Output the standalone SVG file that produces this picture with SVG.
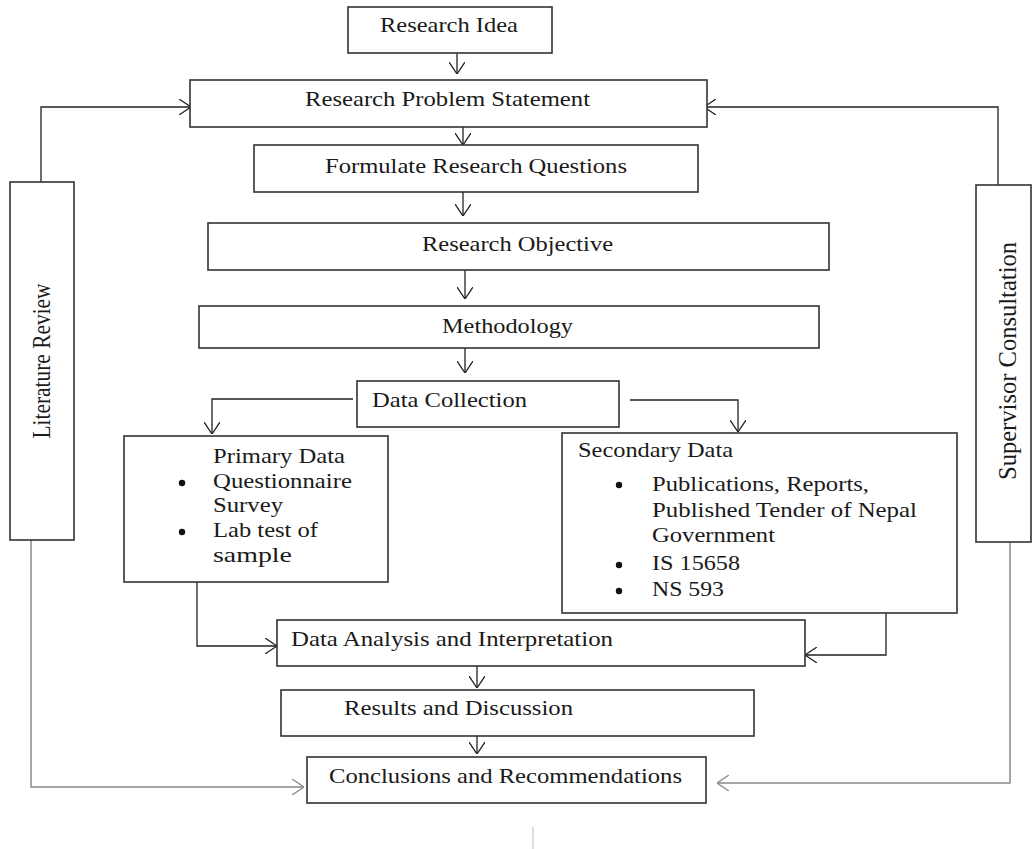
<svg xmlns="http://www.w3.org/2000/svg" width="1033" height="849" viewBox="0 0 1033 849">
<style>
.box{fill:#fff;stroke:#333;stroke-width:1.6}
.t{font-family:"Liberation Serif","Times New Roman",serif;font-size:22px;fill:#1a1a1a}
.c{fill:none;stroke:#222;stroke-width:1.3}
.g{fill:none;stroke:#8a8a8a;stroke-width:1.5}
.dot{fill:#111}
</style>
<defs>
<marker id="a" viewBox="0 0 12 16" refX="12" refY="8" markerWidth="12" markerHeight="16" markerUnits="userSpaceOnUse" orient="auto">
<path d="M0,0 L12,8 L0,16" fill="none" stroke="#222" stroke-width="1.3"/>
</marker>
<marker id="ag" viewBox="0 0 12 16" refX="12" refY="8" markerWidth="12" markerHeight="16" markerUnits="userSpaceOnUse" orient="auto">
<path d="M0,0 L12,8 L0,16" fill="none" stroke="#8a8a8a" stroke-width="1.4"/>
</marker>
</defs>
<rect width="1033" height="849" fill="#fff"/>

<g id="connectors">
<path class="c" d="M457,53 V74" marker-end="url(#a)"/>
<path class="c" d="M463,127 V145" marker-end="url(#a)"/>
<path class="c" d="M463,192 V216" marker-end="url(#a)"/>
<path class="c" d="M465,270 V299" marker-end="url(#a)"/>
<path class="c" d="M465,348 V373" marker-end="url(#a)"/>
<path class="c" d="M353,399 H212 V434" marker-end="url(#a)"/>
<path class="c" d="M630,400 H738 V432" marker-end="url(#a)"/>
<path class="c" d="M197,582 V646 H277" marker-end="url(#a)"/>
<path class="c" d="M886,613 V655 H805" marker-end="url(#a)"/>
<path class="c" d="M477,666 V688" marker-end="url(#a)"/>
<path class="c" d="M477,736 V754" marker-end="url(#a)"/>
<path class="c" d="M41,182 V107 H191" marker-end="url(#a)"/>
<path class="c" d="M998,185 V107 H704" marker-end="url(#a)"/>
<path class="g" d="M31,540 V787 H304" marker-end="url(#ag)"/>
<path class="g" d="M1010,542 V783 H717" marker-end="url(#ag)"/>
<path d="M533,827 V849" stroke="#c8c8c8" stroke-width="1.2" fill="none"/>
</g>

<g id="research-idea">
<rect class="box" x="348" y="7" width="204" height="46"/>
<text class="t" x="380" y="32" textLength="138" lengthAdjust="spacingAndGlyphs">Research Idea</text>
</g>
<g id="problem-statement">
<rect class="box" x="190" y="80" width="517" height="47"/>
<text class="t" x="305" y="106" textLength="285" lengthAdjust="spacingAndGlyphs">Research Problem Statement</text>
</g>
<g id="research-questions">
<rect class="box" x="254" y="145" width="444" height="47"/>
<text class="t" x="325" y="173" textLength="302" lengthAdjust="spacingAndGlyphs">Formulate Research Questions</text>
</g>
<g id="research-objective">
<rect class="box" x="208" y="223" width="621" height="47"/>
<text class="t" x="422" y="251" textLength="191" lengthAdjust="spacingAndGlyphs">Research Objective</text>
</g>
<g id="methodology">
<rect class="box" x="199" y="306" width="620" height="42"/>
<text class="t" x="442" y="333" textLength="131" lengthAdjust="spacingAndGlyphs">Methodology</text>
</g>
<g id="data-collection">
<rect class="box" x="357" y="381" width="262" height="46"/>
<text class="t" x="372" y="407" textLength="155" lengthAdjust="spacingAndGlyphs">Data Collection</text>
</g>
<g id="primary-data">
<rect class="box" x="124" y="436" width="264" height="146"/>
<text class="t" x="213" y="463" textLength="132" lengthAdjust="spacingAndGlyphs">Primary Data</text>
<circle class="dot" cx="182" cy="483" r="3.2"/>
<text class="t" x="213" y="488" textLength="139" lengthAdjust="spacingAndGlyphs">Questionnaire</text>
<text class="t" x="213" y="512" textLength="70" lengthAdjust="spacingAndGlyphs">Survey</text>
<circle class="dot" cx="182" cy="532" r="3.2"/>
<text class="t" x="213" y="537" textLength="105" lengthAdjust="spacingAndGlyphs">Lab test of</text>
<text class="t" x="213" y="562" textLength="79" lengthAdjust="spacingAndGlyphs">sample</text>
</g>
<g id="secondary-data">
<rect class="box" x="562" y="433" width="395" height="180"/>
<text class="t" x="578" y="457" textLength="155" lengthAdjust="spacingAndGlyphs">Secondary Data</text>
<circle class="dot" cx="619" cy="485" r="3.2"/>
<text class="t" x="652" y="491" textLength="217" lengthAdjust="spacingAndGlyphs">Publications, Reports,</text>
<text class="t" x="652" y="517" textLength="265" lengthAdjust="spacingAndGlyphs">Published Tender of Nepal</text>
<text class="t" x="652" y="542" textLength="123" lengthAdjust="spacingAndGlyphs">Government</text>
<circle class="dot" cx="619" cy="565" r="3.2"/>
<text class="t" x="652" y="570" textLength="88" lengthAdjust="spacingAndGlyphs">IS 15658</text>
<circle class="dot" cx="619" cy="591" r="3.2"/>
<text class="t" x="652" y="596" textLength="72" lengthAdjust="spacingAndGlyphs">NS 593</text>
</g>
<g id="data-analysis">
<rect class="box" x="277" y="620" width="528" height="46"/>
<text class="t" x="291" y="646" textLength="322" lengthAdjust="spacingAndGlyphs">Data Analysis and Interpretation</text>
</g>
<g id="results">
<rect class="box" x="281" y="690" width="473" height="46"/>
<text class="t" x="344" y="715" textLength="229" lengthAdjust="spacingAndGlyphs">Results and Discussion</text>
</g>
<g id="conclusions">
<rect class="box" x="307" y="757" width="399" height="46"/>
<text class="t" x="329" y="783" textLength="353" lengthAdjust="spacingAndGlyphs">Conclusions and Recommendations</text>
</g>
<g id="literature-review">
<rect class="box" x="10" y="182" width="64" height="358"/>
<text class="t" transform="translate(50,361) rotate(-90) scale(1,1.15)" text-anchor="middle" textLength="155" lengthAdjust="spacingAndGlyphs">Literature Review</text>
</g>
<g id="supervisor-consultation">
<rect class="box" x="976" y="185" width="55" height="357"/>
<text class="t" style="font-size:23px" transform="translate(1016,361) rotate(-90) scale(1,1.1)" text-anchor="middle" textLength="238" lengthAdjust="spacingAndGlyphs">Supervisor Consultation</text>
</g>
</svg>
